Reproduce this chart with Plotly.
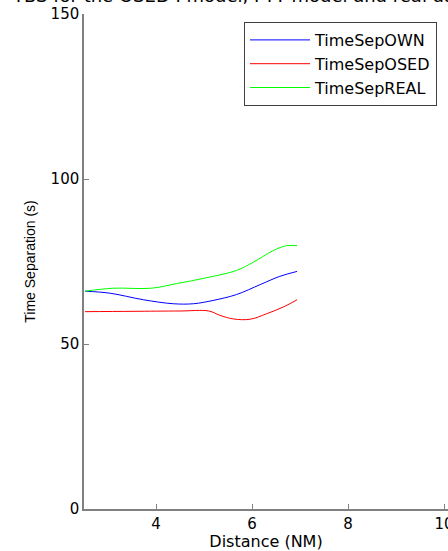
import plotly.graph_objects as go

# Data
dist_own = [2.52, 3.04, 3.74, 4.36, 4.78, 5.19, 5.68, 6.17, 6.58, 6.94]
sep_own = [66.0, 65.4, 63.4, 62.2, 62.2, 63.2, 65.0, 68.0, 70.5, 72.0]

dist_osed = [2.52, 3.5, 4.5, 5.1, 5.33, 5.61, 5.96, 6.31, 6.65, 6.94]
sep_osed = [59.8, 59.9, 60.0, 60.0, 58.7, 57.6, 57.5, 59.2, 61.2, 63.4]

dist_real = [2.52, 3.1, 3.9, 4.43, 5.06, 5.68, 6.03, 6.44, 6.72, 6.94]
sep_real = [66.0, 66.9, 66.9, 68.3, 70.1, 72.3, 74.8, 78.3, 79.8, 79.8]

x_ticks = [4, 6, 8, 10]
y_ticks = [0, 50, 100, 150]

title_text = "TBS for the OSED I model, FTT model and real data"

FONT = "DejaVu Sans, Liberation Sans, Arial, sans-serif"
FONT2 = "Liberation Sans, Arial, sans-serif"

fig = go.Figure()
fig.add_trace(go.Scatter(x=dist_own, y=sep_own, mode="lines", name="TimeSepOWN",
                         line=dict(color="#0000ff", width=1, shape="spline")))
fig.add_trace(go.Scatter(x=dist_osed, y=sep_osed, mode="lines", name="TimeSepOSED",
                         line=dict(color="#ff0000", width=1, shape="spline")))
fig.add_trace(go.Scatter(x=dist_real, y=sep_real, mode="lines", name="TimeSepREAL",
                         line=dict(color="#00ff00", width=1, shape="spline")))

L, T, B = 84, 14, 42
W, H = 448, 551
pw = W - L
ph = H - T - B

fig.update_layout(
    width=W, height=H,
    margin=dict(l=L, r=0, t=T, b=B, pad=0, autoexpand=False),
    paper_bgcolor="white", plot_bgcolor="white",
    font=dict(family=FONT, size=14, color="black"),
    showlegend=True,
    legend=dict(
        x=(437 - L) / pw, xanchor="right",
        y=1 - (22 - T) / ph, yanchor="top",
        bordercolor="#404040", borderwidth=1, bgcolor="white",
        font=dict(family=FONT, size=16),
        tracegroupgap=0, itemwidth=60,
    ),
    xaxis=dict(
        range=[2.5, 2.5 + pw / 48.0],
        tickvals=x_ticks, ticks="inside", ticklen=5, tickcolor="#808080",
        showline=True, linecolor="#808080", linewidth=1.5,
        showgrid=False, zeroline=False,
        ticklabeloverflow="allow",
        tickfont=dict(family=FONT, size=15),
        title=dict(text="Distance (NM)", font=dict(family=FONT, size=16), standoff=1),
    ),
    yaxis=dict(
        range=[0, 150],
        tickvals=y_ticks, ticks="inside", ticklen=5, tickcolor="#808080",
        showline=True, linecolor="#808080", linewidth=1.5,
        showgrid=False, zeroline=False,
        tickfont=dict(family=FONT, size=15),
        title=dict(text="Time Separation (s)", font=dict(family=FONT2, size=14), standoff=12),
    ),
)

fig.add_annotation(
    text=title_text, xref="paper", yref="paper",
    x=(10 - L) / pw, xanchor="left",
    y=1 + (T - 8) / ph, yanchor="bottom",
    showarrow=False, font=dict(family=FONT, size=18, color="black"),
)

fig.write_html(
    "out.html",
    config={"displayModeBar": False},
    post_script="document.body.style.margin='0';document.body.style.overflow='hidden';",
)
